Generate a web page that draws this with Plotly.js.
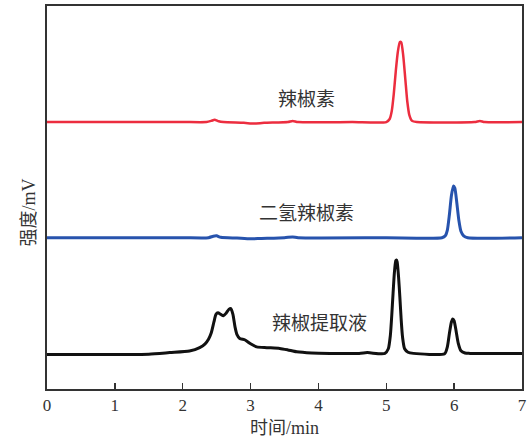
<!DOCTYPE html>
<html>
<head>
<meta charset="utf-8">
<script src="https://cdn.plot.ly/plotly-3.0.1.min.js"></script>
<style>html,body{margin:0;padding:0;background:#fff;}#chart{width:528px;height:438px;}</style>
</head>
<body>
<div id="chart"></div>
<script>
// Retention time (min) and intensity (arbitrary mV units, stacked chromatograms)
const capsaicinTime = [0, 1.0, 2.0, 2.35, 2.42, 2.47, 2.53, 2.6, 2.9, 3.05, 3.2, 3.55, 3.62, 3.7, 4.5, 5.0, 5.05, 5.08, 5.11, 5.14, 5.17, 5.20, 5.22, 5.25, 5.28, 5.31, 5.34, 5.38, 5.45, 6.3, 6.38, 6.45, 7.0];
const capsaicinSignal = [69.7, 69.7, 69.7, 69.7, 70.0, 70.3, 69.9, 69.7, 69.5, 69.3, 69.5, 69.7, 70.0, 69.7, 69.7, 69.7, 70.5, 72.5, 77.0, 83.0, 88.0, 90.6, 90.5, 87.0, 81.0, 75.0, 71.5, 70.0, 69.7, 69.7, 70.0, 69.7, 69.7];

const dihydroTime = [0, 1.0, 2.0, 2.38, 2.45, 2.5, 2.56, 2.8, 3.0, 3.15, 3.5, 3.62, 3.7, 5.0, 5.82, 5.87, 5.90, 5.93, 5.96, 5.99, 6.01, 6.04, 6.07, 6.10, 6.14, 6.20, 7.0];
const dihydroSignal = [39.5, 39.5, 39.5, 39.5, 39.9, 40.0, 39.6, 39.4, 39.2, 39.3, 39.5, 39.7, 39.5, 39.5, 39.5, 40.0, 41.5, 45.5, 50.5, 53.0, 52.5, 48.5, 44.0, 41.2, 40.0, 39.5, 39.5];

const extractTime = [0, 1.0, 1.5, 1.81, 2.10, 2.25, 2.33, 2.38, 2.42, 2.46, 2.49, 2.52, 2.56, 2.60, 2.64, 2.68, 2.71, 2.74, 2.77, 2.80, 2.84, 2.92, 3.0, 3.09, 3.24, 3.43, 3.55, 3.68, 3.9, 4.17, 4.6, 4.72, 4.78, 4.98, 5.03, 5.06, 5.08, 5.10, 5.12, 5.14, 5.15, 5.16, 5.18, 5.20, 5.22, 5.24, 5.27, 5.32, 5.40, 5.86, 5.90, 5.93, 5.96, 5.98, 6.00, 6.03, 6.06, 6.10, 6.16, 6.23, 7.0];
const extractSignal = [9.0, 9.0, 9.1, 9.5, 9.9, 10.8, 11.8, 13.0, 14.6, 17.5, 19.5, 19.9, 19.5, 19.1, 19.8, 20.8, 21.0, 19.5, 16.3, 14.2, 13.2, 12.8, 11.8, 11.0, 10.8, 10.6, 10.2, 9.7, 9.4, 9.3, 9.3, 9.5, 9.4, 9.3, 10.5, 14.0, 19.0, 25.0, 30.5, 33.5, 33.7, 33.2, 29.5, 24.0, 18.0, 13.5, 10.5, 9.6, 9.3, 9.2, 11.0, 14.5, 17.5, 18.3, 17.8, 15.0, 12.0, 10.0, 9.4, 9.3, 9.3];

const xTickVals = [0, 1, 2, 3, 4, 5, 6, 7];
const traceLabels = ['辣椒素', '二氢辣椒素', '辣椒提取液'];

const serif = '"Liberation Serif", "Times New Roman", serif';
const cjk = '"Liberation Serif", "Noto Sans CJK SC", serif';

const traces = [
  {x: capsaicinTime, y: capsaicinSignal, name: traceLabels[0], mode: 'lines', line: {color: '#ec2d3f', width: 2.5, shape: 'spline', smoothing: 0.6}},
  {x: dihydroTime, y: dihydroSignal, name: traceLabels[1], mode: 'lines', line: {color: '#2753ad', width: 3, shape: 'spline', smoothing: 0.6}},
  {x: extractTime, y: extractSignal, name: traceLabels[2], mode: 'lines', line: {color: '#111111', width: 3, shape: 'spline', smoothing: 0.6}}
];

const layout = {
  width: 528, height: 438,
  margin: {l: 47, r: 6, t: 6, b: 49},
  paper_bgcolor: '#ffffff', plot_bgcolor: '#ffffff',
  showlegend: false,
  xaxis: {
    range: [0, 7], tickvals: xTickVals, ticktext: xTickVals.map(String),
    ticks: 'inside', ticklen: 6, tickwidth: 1.3, tickcolor: '#333',
    showline: true, mirror: true, linecolor: '#333', linewidth: 1.6,
    showgrid: false, zeroline: false,
    tickfont: {family: serif, size: 17, color: '#333'},
    title: {text: '时间/min', font: {family: cjk, size: 18, color: '#333'}, standoff: 9}
  },
  yaxis: {
    range: [0, 100], showticklabels: false, ticks: '',
    showline: true, mirror: true, linecolor: '#333', linewidth: 1.6,
    showgrid: false, zeroline: false
  },
  annotations: [
    {x: 3.82, y: 75.5, xref: 'x', yref: 'y', text: traceLabels[0], showarrow: false, font: {family: cjk, size: 19, color: '#333'}},
    {x: 3.82, y: 45.7, xref: 'x', yref: 'y', text: traceLabels[1], showarrow: false, font: {family: cjk, size: 19, color: '#333'}},
    {x: 4.01, y: 17.0, xref: 'x', yref: 'y', text: traceLabels[2], showarrow: false, font: {family: cjk, size: 19, color: '#333'}},
    {x: -0.064, y: 0.46, xref: 'paper', yref: 'paper', text: '强度/mV', textangle: -90, showarrow: false, font: {family: cjk, size: 18, color: '#333'}}
  ]
};

Plotly.newPlot('chart', traces, layout, {staticPlot: true, displayModeBar: false});
</script>
</body>
</html>
